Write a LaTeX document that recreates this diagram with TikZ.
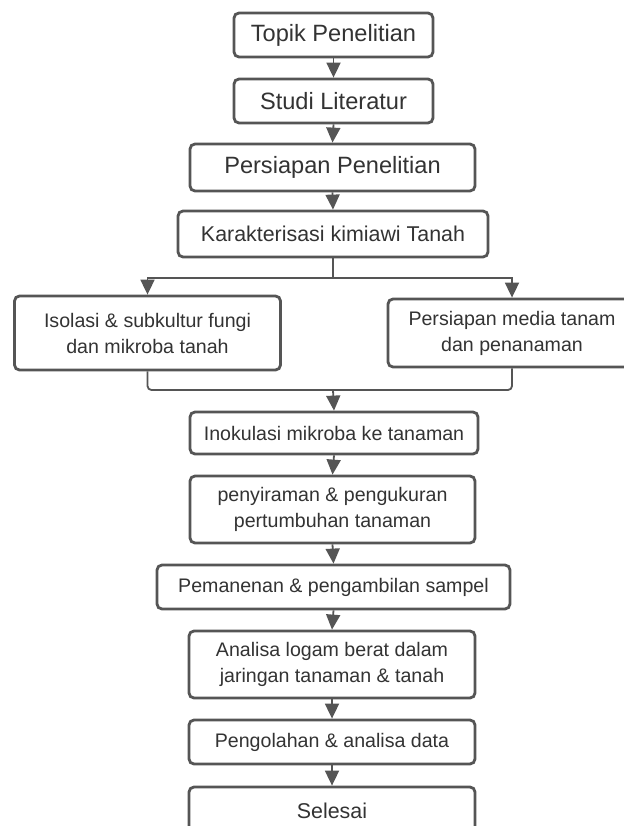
\documentclass[tikz,border=0pt]{standalone}
\usepackage{fontspec}
\setmainfont{Liberation Sans}
\usetikzlibrary{arrows.meta}
\definecolor{edge}{HTML}{555555}
\definecolor{txt}{HTML}{333333}
\tikzset{
  box/.style={draw=edge, line width=2.8pt, rounded corners=5pt, fill=white,
    text=txt, align=center, inner sep=0pt, anchor=center},
  big/.style={font=\fontsize{23.6}{28}\selectfont},
  mid/.style={font=\fontsize{21.4}{26}\selectfont},
  small/.style={font=\fontsize{19.6}{26}\selectfont},
  conn/.style={draw=edge, line width=1.8pt},
  arr/.style={conn, -{Triangle[width=14pt,length=15pt]}},
}
\begin{document}
\begin{tikzpicture}[x=1pt,y=-1pt]
\useasboundingbox (0,0) rectangle (623,826);
\fill[white] (0,0) rectangle (623,826);
\node[box,big,minimum width=199pt,minimum height=44pt] (topik) at (333.5,35) {Topik Penelitian};
\node[box,big,minimum width=199pt,minimum height=44pt] (studi) at (333.5,101) {Studi Literatur};
\node[box,big,minimum width=285pt,minimum height=47pt] (pers) at (332.5,167.5) {Persiapan Penelitian};
\node[box,mid,minimum width=310pt,minimum height=46pt] (kar) at (333,234) {Karakterisasi kimiawi Tanah};
\node[box,small,minimum width=266pt,minimum height=74pt] (isol) at (147.5,333) {Isolasi \& subkultur fungi\\dan mikroba tanah};
\node[box,small,minimum width=248pt,minimum height=68pt] (med) at (512,333) {Persiapan media tanam\\dan penanaman};
\node[box,small,minimum width=288pt,minimum height=42pt] (inok) at (334,433) {Inokulasi mikroba ke tanaman};
\node[box,small,minimum width=285pt,minimum height=67pt] (siram) at (332.5,509.5) {penyiraman \& pengukuran\\pertumbuhan tanaman};
\node[box,small,minimum width=353pt,minimum height=44pt] (panen) at (333.5,587) {Pemanenan \& pengambilan sampel};
\node[box,small,minimum width=286pt,minimum height=67pt] (anal) at (332,664.5) {Analisa logam berat dalam\\jaringan tanaman \& tanah};
\node[box,small,minimum width=286pt,minimum height=44pt] (olah) at (332,742) {Pengolahan \& analisa data};
\node[box,mid,minimum width=286pt,minimum height=48pt] (sel) at (332,811) {Selesai};
\draw[arr] (topik.south) -- (studi.north);
\draw[arr] (studi.south) -- (pers.north);
\draw[arr] (pers.south) -- (kar.north);
\coordinate (sp) at (333,278);
\draw[conn] (kar.south) -- (sp);
\draw[arr] (sp) -| (isol.north);
\draw[arr] (sp) -| (med.north);
\coordinate (mg) at (333,390);
\draw[conn, rounded corners=4pt] (isol.south) |- (mg);
\draw[conn, rounded corners=4pt] (med.south) |- (mg);
\draw[arr] (mg) -- (inok.north);
\draw[arr] (inok.south) -- (siram.north);
\draw[arr] (siram.south) -- (panen.north);
\draw[arr] (panen.south) -- (anal.north);
\draw[arr] (anal.south) -- (olah.north);
\draw[arr] (olah.south) -- (sel.north);
\end{tikzpicture}
\end{document}
